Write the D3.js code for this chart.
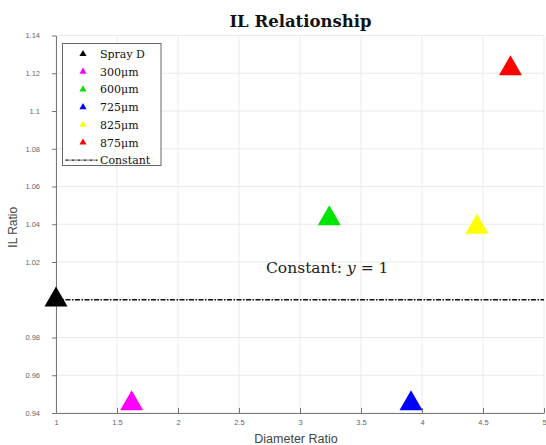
<!DOCTYPE html>
<html>
<head>
<meta charset="utf-8">
<script src="https://cdn.jsdelivr.net/npm/d3@7"></script>
<style>
  body { margin: 0; background: #fff; }
  svg { display: block; }
</style>
</head>
<body>
<svg id="chart" width="546" height="445"></svg>
<script>
// series, one point each
var names = ["Spray D", "300\u03bcm", "600\u03bcm", "725\u03bcm", "825\u03bcm", "875\u03bcm"];
var xVals = [1.0, 1.62, 3.24, 3.91, 4.45, 4.725];
var yVals = [1.0, 0.945, 1.043, 0.945, 1.0385, 1.1225];
var colors = ["#000000", "#ff00ff", "#00e600", "#0000ff", "#ffff00", "#ff0000"];

var xTicks = [1, 1.5, 2, 2.5, 3, 3.5, 4, 4.5, 5];
var xTickLabels = ["1", "1.5", "2", "2.5", "3", "3.5", "4", "4.5", "5"];
var yTicks = [0.94, 0.96, 0.98, 1.0, 1.02, 1.04, 1.06, 1.08, 1.1, 1.12, 1.14];
// the "1" label is covered in the original, left blank
var yTickLabels = ["0.94", "0.96", "0.98", "", "1.02", "1.04", "1.06", "1.08", "1.1", "1.12", "1.14"];
var constantY = 1;

var margin = { top: 35.5, left: 56, right: 2, bottom: 32 };
var width = 546 - margin.left - margin.right;
var height = 445 - margin.top - margin.bottom;

var x = d3.scaleLinear().domain([1, 5]).range([0, width]);
var y = d3.scaleLinear().domain([0.94, 1.14]).range([height, 0]);

var svg = d3.select("#chart")
    .append("g")
    .attr("transform", "translate(" + margin.left + "," + margin.top + ")");

// grid
svg.append("g")
    .selectAll("line")
    .data(xTicks)
    .enter().append("line")
    .attr("x1", function(d) { return x(d); })
    .attr("x2", function(d) { return x(d); })
    .attr("y1", 0).attr("y2", height)
    .attr("stroke", "#ebebeb").attr("stroke-width", 1);

svg.append("g")
    .selectAll("line")
    .data(yTicks)
    .enter().append("line")
    .attr("y1", function(d) { return y(d); })
    .attr("y2", function(d) { return y(d); })
    .attr("x1", 0).attr("x2", width)
    .attr("stroke", "#ebebeb").attr("stroke-width", 1);

// axes
var xAxis = svg.append("g")
    .attr("transform", "translate(0," + height + ")")
    .call(d3.axisBottom(x).tickValues(xTicks)
          .tickFormat(function(d, i) { return xTickLabels[i]; })
          .tickSizeInner(-5).tickSizeOuter(0).tickPadding(7));

var yAxis = svg.append("g")
    .call(d3.axisLeft(y).tickValues(yTicks)
          .tickFormat(function(d, i) { return yTickLabels[i]; })
          .tickSizeInner(4).tickSizeOuter(0).tickPadding(12));

[xAxis, yAxis].forEach(function(a) {
    a.select(".domain").attr("stroke", "#777").attr("stroke-width", 1);
    a.selectAll(".tick line").attr("stroke", "#777");
    a.selectAll("text")
        .attr("fill", "#666")
        .style("font-family", "Liberation Sans, Arial, sans-serif")
        .style("font-size", "7.5px");
});

// constant line
svg.append("line")
    .attr("x1", x(1)).attr("x2", x(5))
    .attr("y1", y(constantY)).attr("y2", y(constantY))
    .attr("stroke", "#111").attr("stroke-width", 1.6)
    .attr("stroke-dasharray", "5,1.5,1.5,1.5");

// points
var tri = d3.symbol().type(d3.symbolTriangle).size(230);
svg.append("g")
    .selectAll("path")
    .data(xVals)
    .enter().append("path")
    .attr("d", tri)
    .attr("transform", function(d, i) { return "translate(" + x(d) + "," + y(yVals[i]) + ")"; })
    .attr("fill", function(d, i) { return colors[i]; });

// annotation
var ann = svg.append("text")
    .attr("x", 266 - margin.left)
    .attr("y", 272.5 - margin.top)
    .attr("fill", "#222")
    .style("font-family", "DejaVu Serif, serif")
    .style("font-size", "15.5px");
ann.append("tspan").text("Constant:  ");
ann.append("tspan").style("font-style", "italic").text("y");
ann.append("tspan").text(" = 1");

// legend
var lg = svg.append("g").attr("transform", "translate(" + (62.5 - margin.left) + "," + (43.5 - margin.top) + ")");
lg.append("rect")
    .attr("width", 98.5).attr("height", 122)
    .attr("fill", "#fff").attr("stroke", "#666").attr("stroke-width", 1);

var rowH = 17.7;
var smallTri = d3.symbol().type(d3.symbolTriangle).size(22);
names.forEach(function(n, i) {
    var ry = 10.5 + i * rowH;
    lg.append("path")
        .attr("d", smallTri)
        .attr("transform", "translate(20.5," + ry + ")")
        .attr("fill", colors[i]);
    lg.append("text")
        .attr("x", 37.5).attr("y", ry + 4)
        .attr("fill", "#111")
        .style("font-family", "DejaVu Serif, serif")
        .style("font-size", "11px")
        .text(n);
});
var cy = 10.5 + 6 * rowH;
lg.append("line")
    .attr("x1", 3).attr("x2", 35)
    .attr("y1", cy).attr("y2", cy)
    .attr("stroke", "#111").attr("stroke-width", 1.2)
    .attr("stroke-dasharray", "3,1,1,1");
lg.append("text")
    .attr("x", 37.5).attr("y", cy + 4)
    .attr("fill", "#111")
    .style("font-family", "DejaVu Serif, serif")
    .style("font-size", "11px")
    .text("Constant");

// title and labels
d3.select("#chart").append("text")
    .attr("x", 300.5).attr("y", 27)
    .attr("text-anchor", "middle")
    .attr("fill", "#111")
    .style("font-family", "DejaVu Serif, serif")
    .style("font-weight", "bold")
    .style("font-size", "16.5px")
    .text("IL Relationship");

d3.select("#chart").append("text")
    .attr("x", 296).attr("y", 443)
    .attr("text-anchor", "middle")
    .attr("fill", "#444")
    .style("font-family", "Liberation Sans, Arial, sans-serif")
    .style("font-size", "12.5px")
    .text("Diameter Ratio");

d3.select("#chart").append("text")
    .attr("transform", "translate(17," + (margin.top + height / 2 + 3) + ") rotate(-90)")
    .attr("text-anchor", "middle")
    .attr("fill", "#444")
    .style("font-family", "Liberation Sans, Arial, sans-serif")
    .style("font-size", "12px")
    .text("IL Ratio");
</script>
</body>
</html>
